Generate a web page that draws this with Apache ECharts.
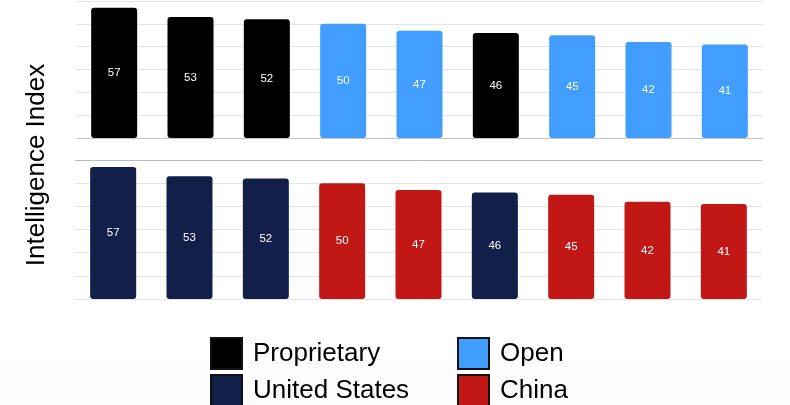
<!DOCTYPE html>
<html>
<head>
<meta charset="utf-8">
<script src="https://cdn.jsdelivr.net/npm/echarts@6/dist/echarts.min.js"></script>
<style>
  html, body { margin: 0; padding: 0; background: #ffffff; }
  #chart { width: 790px; height: 405px; }
</style>
</head>
<body>
<div id="chart"></div>
<script>
// Ranked models (left to right), their Intelligence Index scores and groupings
const ranks = ['1', '2', '3', '4', '5', '6', '7', '8', '9'];
const scores = [57, 53, 52, 50, 47, 46, 45, 42, 41];
const licence = ['Proprietary', 'Proprietary', 'Proprietary', 'Open', 'Open', 'Proprietary', 'Open', 'Open', 'Open'];
const origin = ['United States', 'United States', 'United States', 'China', 'China', 'United States', 'China', 'China', 'China'];
const yTicks = [0, 10, 20, 30, 40, 50, 60];

const groupColors = {
  'Proprietary': '#000000',
  'Open': '#419dff',
  'United States': '#121f48',
  'China': '#c11816'
};

const FONT = '"Liberation Sans", Arial, Helvetica, sans-serif';
const light = '#e4e4e4';
const dark = '#c4c4c4';

function groupSeries(name, groups, gridIdx) {
  return {
    name: name,
    type: 'bar',
    stack: 'panel' + gridIdx,
    xAxisIndex: gridIdx,
    yAxisIndex: gridIdx,
    barWidth: 46,
    itemStyle: { color: groupColors[name], borderRadius: 3 },
    label: {
      show: true,
      position: 'inside',
      color: '#ffffff',
      fontFamily: FONT,
      fontSize: 11.5
    },
    data: scores.map((v, i) => (groups[i] === name ? v : '-'))
  };
}

function xAxis(gridIdx) {
  return {
    type: 'category',
    gridIndex: gridIdx,
    data: ranks,
    axisLine: { show: false },
    axisTick: { show: false },
    axisLabel: { show: false }
  };
}

function yAxis(gridIdx, lineColors) {
  return {
    type: 'value',
    gridIndex: gridIdx,
    min: yTicks[0],
    max: yTicks[yTicks.length - 1],
    interval: yTicks[1] - yTicks[0],
    axisLine: { show: false },
    axisTick: { show: false },
    axisLabel: { show: false },
    splitLine: { show: true, lineStyle: { color: lineColors, width: 1 } }
  };
}

// One legend entry per box so the 2x2 key can be positioned freely
function legendEntry(name, left, top) {
  return {
    data: [name],
    left: left,
    top: top,
    padding: 0,
    itemWidth: 31,
    itemHeight: 31,
    icon: 'rect',
    itemStyle: { borderColor: '#111111', borderWidth: 2 },
    textStyle: { fontFamily: FONT, fontSize: 26, color: '#000000', padding: [0, 0, 0, 6] }
  };
}

const chart = echarts.init(document.getElementById('chart'), null, { renderer: 'canvas' });

chart.setOption({
  animation: false,
  backgroundColor: '#ffffff',
  grid: [
    { left: 76, width: 687, top: 1, height: 137 },
    { left: 75, width: 687, top: 160, height: 139 }
  ],
  xAxis: [xAxis(0), xAxis(1)],
  yAxis: [
    yAxis(0, [dark, light, light, light, light, light, light]),
    yAxis(1, [light, light, light, light, light, light, '#bcbcbc'])
  ],
  legend: [
    legendEntry('Proprietary', 210, 337),
    legendEntry('United States', 210, 374),
    legendEntry('Open', 457, 337),
    legendEntry('China', 457, 374)
  ],
  graphic: [
    {
      type: 'rect',
      silent: true,
      z: -10,
      shape: { x: 0, y: 360, width: 790, height: 45 },
      style: { fill: '#fcfcfc' }
    },
    {
      type: 'text',
      x: 37,
      y: 165,
      rotation: Math.PI / 2,
      style: {
        text: 'Intelligence Index',
        font: '26px ' + FONT,
        fill: '#000000',
        align: 'center',
        verticalAlign: 'middle'
      }
    }
  ],
  series: [
    groupSeries('Proprietary', licence, 0),
    groupSeries('Open', licence, 0),
    groupSeries('United States', origin, 1),
    groupSeries('China', origin, 1)
  ]
});
</script>
</body>
</html>
